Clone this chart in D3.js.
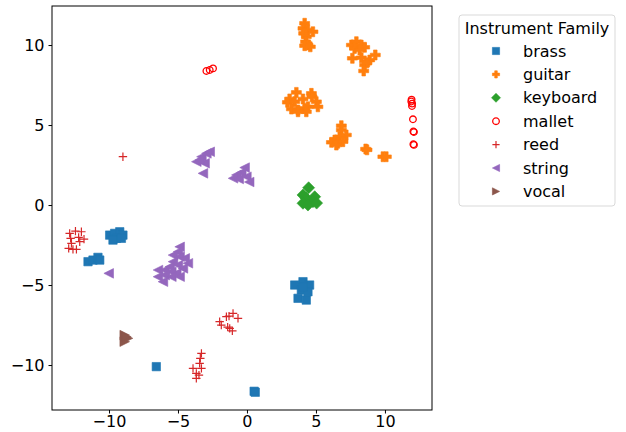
<!DOCTYPE html>
<html>
<head>
<meta charset="utf-8">
<script src="https://cdn.jsdelivr.net/npm/d3@7"></script>
<style>
  body { margin: 0; background: #fff; }
  svg text { font-family: "DejaVu Sans", sans-serif; }
</style>
</head>
<body>
<script>
// chart size and plot box
const w = 626;
const h = 432;
const marginTop = 6;
const marginRight = 194;
const marginBottom = 22;
const marginLeft = 52;

const families = ["brass", "guitar", "keyboard", "mallet", "reed", "string", "vocal"];
const colors = ["#1f77b4", "#ff7f0e", "#2ca02c", "#ff0000", "#d62728", "#9467bd", "#8c564b"];
const xTicks = [-10, -5, 0, 5, 10];
const yTicks = [-10, -5, 0, 5, 10];

// points per family
const brass = [
  [-9.95, -1.88], [-9.59, -1.77], [-9.22, -1.67], [-8.99, -1.88], [-9.46, -2.08], [-9.71, -2.19], [-9.1, -2.08],
  [-11.52, -3.54], [-11.16, -3.44], [-10.8, -3.27], [-10.67, -3.44],
  [3.46, -5.0], [4.06, -4.79], [4.54, -5.0], [3.94, -5.31], [4.42, -5.42], [3.7, -5.83], [4.3, -5.94], [4.06, -5.11],
  [-6.57, -10.1], [0.52, -11.64], [0.6, -11.7]
];
const guitar = [
  [4.18, 11.36], [4.06, 11.04], [4.42, 10.94], [4.78, 10.83], [4.11, 10.73], [4.3, 10.52], [4.25, 10.21], [4.42, 10.0], [4.18, 9.96], [4.59, 9.89],
  [7.57, 10.0], [7.93, 10.21], [8.29, 10.0], [8.53, 9.86], [7.8, 9.79], [8.17, 9.69], [7.64, 9.17], [8.29, 9.21], [8.89, 9.06], [9.3, 9.38], [8.53, 8.75], [8.7, 8.89], [8.46, 8.38],
  [3.58, 7.04], [4.67, 6.98], [4.71, 6.77], [3.09, 6.63], [4.06, 6.63], [2.93, 6.42], [3.46, 6.46], [5.03, 6.46], [5.14, 6.14], [3.22, 6.0], [3.7, 5.94], [4.18, 6.04], [4.42, 6.14], [4.3, 5.83], [3.7, 5.83],
  [6.84, 4.96], [6.84, 4.69], [7.2, 4.38], [6.72, 4.27], [6.36, 4.06], [6.12, 3.92], [6.59, 3.86], [6.96, 3.96], [6.48, 3.75],
  [8.6, 3.5], [8.7, 3.45], [9.85, 3.02], [10.1, 3.02]
];
const keyboard = [
  [4.47, 1.08], [4.06, 0.63], [4.3, 0.42], [4.91, 0.52], [4.06, 0.11], [4.78, 0.21], [4.42, 0.0], [5.05, 0.12]
];
const mallet = [
  [-2.94, 8.38], [-2.7, 8.44], [-2.46, 8.54],
  [11.93, 6.59], [11.91, 6.47], [11.97, 6.34], [11.96, 6.19], [12.03, 5.36],
  [12.06, 4.6], [12.1, 4.56], [12.06, 3.8], [12.1, 3.76]
];
const reed = [
  [-8.99, 3.02],
  [-12.85, -1.77], [-12.43, -1.63], [-12.0, -1.67], [-12.78, -2.08], [-12.2, -2.02], [-11.81, -2.13], [-12.72, -2.39], [-12.12, -2.29], [-12.92, -2.71], [-12.61, -2.77], [-12.36, -2.77],
  [-1.98, -7.29], [-1.86, -7.5], [-1.49, -6.98], [-1.3, -6.94], [-1.01, -6.77], [-0.65, -7.08], [-1.25, -7.71], [-1.06, -7.86], [-1.4, -7.63],
  [-3.3, -9.27], [-3.38, -9.58], [-3.43, -9.89], [-3.91, -10.21], [-3.67, -10.52], [-3.67, -10.83], [-3.3, -10.21], [-3.48, -10.63]
];
const string = [
  [-2.7, 3.33], [-2.94, 3.23], [-3.3, 3.02], [-3.67, 2.71], [-3.07, 2.61], [-3.43, 2.81], [-3.19, 1.98],
  [-0.17, 2.34], [-0.41, 2.03], [-0.77, 1.88], [-1.01, 1.67], [-0.04, 1.77], [0.16, 1.44], [-0.6, 1.63],
  [-4.88, -2.61], [-5.0, -2.92], [-5.36, -3.13], [-4.88, -3.23], [-4.51, -3.33], [-5.36, -3.54], [-4.28, -3.64], [-5.0, -3.75],
  [-6.45, -4.06], [-5.96, -4.06], [-5.6, -3.86], [-5.48, -4.17], [-4.64, -3.96], [-5.12, -4.27], [-6.45, -4.48], [-5.96, -4.38],
  [-5.48, -4.48], [-6.09, -4.79], [-4.88, -4.48], [-10.02, -4.27]
];
const vocal = [
  [-8.86, -8.13], [-8.62, -8.33], [-8.86, -8.54], [-8.74, -8.23]
];
const seriesData = [brass, guitar, keyboard, mallet, reed, string, vocal];

// marker shapes, r = half size in px
const shapes = {
  brass: (r) => `M${-r},${-r}H${r}V${r}H${-r}Z`,
  guitar: (r) => {
    const a = r * 0.36;
    return `M${-a},${-r}H${a}V${-a}H${r}V${a}H${a}V${r}H${-a}V${a}H${-r}V${-a}H${-a}Z`;
  },
  keyboard: (r) => `M0,${-r * 1.25}L${r * 1.25},0L0,${r * 1.25}L${-r * 1.25},0Z`,
  mallet: (r) => `M${r},0A${r},${r} 0 1,1 ${-r},0A${r},${r} 0 1,1 ${r},0Z`,
  reed: (r) => `M${-r},0H${r}M0,${-r}V${r}`,
  string: (r) => `M${-r},0L${r},${-r}L${r},${r}Z`,
  vocal: (r) => `M${r},0L${-r},${-r}L${-r},${r}Z`,
};
const sizes = { brass: 4.2, guitar: 5, keyboard: 4.8, mallet: 3.3, reed: 4.2, string: 4.8, vocal: 4.8 };

const xScale = d3.scaleLinear().domain([-14.13, 13.41]).range([marginLeft, w - marginRight]);
const yScale = d3.scaleLinear().domain([-12.81, 12.44]).range([h - marginBottom, marginTop]);

const svg = d3.select("body").append("svg").attr("width", w).attr("height", h);

function styleMark(sel, fam, i) {
  if (fam === "mallet") {
    sel.attr("fill", "none").attr("stroke", colors[i]).attr("stroke-width", 1.3);
  } else if (fam === "reed") {
    sel.attr("fill", "none").attr("stroke", colors[i]).attr("stroke-width", 1.2);
  } else {
    sel.attr("fill", colors[i]).attr("stroke", colors[i]).attr("stroke-width", 0.6);
  }
}

families.forEach((fam, i) => {
  const g = svg.append("g").attr("class", "series-" + fam);
  g.selectAll("path")
    .data(seriesData[i])
    .enter()
    .append("path")
    .attr("d", shapes[fam](sizes[fam]))
    .attr("transform", (d) => `translate(${xScale(d[0])},${yScale(d[1])})`)
    .call(styleMark, fam, i);
});

const minus = (d) => d3.format("")(d).replace("-", "\u2212");

// axes
svg.append("g")
  .attr("transform", `translate(0,${h - marginBottom})`)
  .call(d3.axisBottom(xScale).tickValues(xTicks).tickSize(3.5).tickPadding(2).tickFormat(minus))
  .call((g) => g.selectAll("text").attr("font-size", 16).attr("fill", "#000"))
  .call((g) => g.selectAll("line").attr("stroke", "#000"))
  .call((g) => g.select(".domain").remove());

svg.append("g")
  .attr("transform", `translate(${marginLeft},0)`)
  .call(d3.axisLeft(yScale).tickValues(yTicks).tickSize(3.5).tickPadding(4).tickFormat(minus))
  .call((g) => g.selectAll("text").attr("font-size", 16).attr("fill", "#000"))
  .call((g) => g.selectAll("line").attr("stroke", "#000"))
  .call((g) => g.select(".domain").remove());

// frame
svg.append("rect")
  .attr("x", marginLeft)
  .attr("y", marginTop)
  .attr("width", w - marginRight - marginLeft)
  .attr("height", h - marginBottom - marginTop)
  .attr("fill", "none")
  .attr("stroke", "#000")
  .attr("stroke-width", 1);

// legend
const legend = svg.append("g").attr("transform", "translate(459,15)");
legend.append("rect")
  .attr("width", 156)
  .attr("height", 191)
  .attr("rx", 3)
  .attr("fill", "#fff")
  .attr("stroke", "#d9d9d9");
legend.append("text")
  .attr("x", 78)
  .attr("y", 19)
  .attr("text-anchor", "middle")
  .attr("font-size", 16)
  .text("Instrument Family");
families.forEach((fam, i) => {
  const y = 36 + i * 23.4;
  legend.append("path")
    .attr("d", shapes[fam](fam === "mallet" ? 3.3 : 3.6))
    .attr("transform", `translate(37,${y})`)
    .call(styleMark, fam, i);
  legend.append("text")
    .attr("x", 64)
    .attr("y", y)
    .attr("dy", "0.35em")
    .attr("font-size", 16)
    .text(fam);
});
</script>
</body>
</html>
